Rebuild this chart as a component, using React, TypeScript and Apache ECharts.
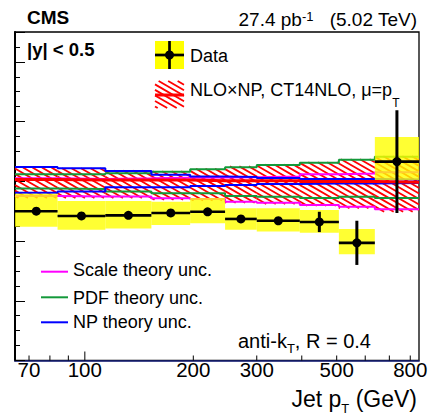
import React, { useEffect, useRef } from "react";
import * as echarts from "echarts";

// ---------------- data ----------------
const binEdges = [64, 84, 114, 153, 196, 245, 300, 395, 507, 638, 846];

const dataRatio = [0.950, 0.942, 0.943, 0.947, 0.949, 0.937, 0.934, 0.932, 0.897, 1.033];
const dataStatErr = [0.003, 0.003, 0.003, 0.004, 0.005, 0.006, 0.006, 0.017, 0.037, 0.086];
const dataSystLow = [0.924, 0.919, 0.921, 0.927, 0.930, 0.919, 0.916, 0.914, 0.878, 1.002];
const dataSystHigh = [0.979, 0.967, 0.967, 0.966, 0.972, 0.955, 0.955, 0.952, 0.920, 1.074];

const theoryCentral = [1.003, 1.002, 1.002, 1.002, 1.001, 1.001, 1.001, 0.9995, 0.9995, 0.9985];
const theoryTotalLow = [0.972, 0.972, 0.972, 0.969, 0.968, 0.964, 0.962, 0.959, 0.955, 0.949];
const theoryTotalHigh = [1.023, 1.022, 1.018, 1.017, 1.021, 1.025, 1.028, 1.032, 1.037, 1.042];
const scaleLow = [0.9755, 0.9747, 0.9744, 0.9717, 0.9705, 0.966, 0.9643, 0.9605, 0.9576, 0.9533];
const scaleHigh = [1.005, 1.004, 1.005, 1.006, 1.0065, 1.007, 1.008, 1.012, 1.013, 1.015];
const pdfLow = [0.988, 0.987, 0.983, 0.980, 0.980, 0.9755, 0.974, 0.972, 0.974, 0.972];
const pdfHigh = [1.012, 1.012, 1.0136, 1.016, 1.020, 1.0236, 1.0275, 1.031, 1.036, 1.041];
const npLow = [0.981, 0.983, 0.990, 0.990, 0.992, 0.994, 0.9956, 0.9965, 0.9965, 0.9973];
const npHigh = [1.024, 1.022, 1.0174, 1.011, 1.008, 1.0074, 1.0057, 1.004, 1.004, 1.003];

const xTickValues = [70, 80, 90, 100, 200, 300, 400, 500, 600, 700, 800];
const xTickLabels = [70, 100, 200, 300, 500, 800];

// ---------------- styling ----------------
const FONT = "'Liberation Sans', Arial, Helvetica, sans-serif";
const RED = "#ff0000";
const MAGENTA = "#ff00ff";
const GREEN = "#13993a";
const BLUE = "#0000ff";
const YELLOW = "#ffff00";
const HATCH_SLOPE = 0.58;
const HATCH_STEP = 0.58 * 9.5;

function hatchLines(x0: number, y0: number, x1: number, y1: number, width = 1.8): any[] {
  const out: any[] = [];
  const kMin = Math.ceil((y0 - HATCH_SLOPE * x1) / HATCH_STEP);
  const kMax = Math.floor((y1 - HATCH_SLOPE * x0) / HATCH_STEP);
  for (let k = kMin; k <= kMax; k++) {
    const c = k * HATCH_STEP;
    const xa = Math.max(x0, (y0 - c) / HATCH_SLOPE);
    const xb = Math.min(x1, (y1 - c) / HATCH_SLOPE);
    if (xb - xa > 0.3) {
      out.push({
        type: "line",
        shape: { x1: xa, y1: HATCH_SLOPE * xa + c, x2: xb, y2: HATCH_SLOPE * xb + c },
        style: { stroke: RED, lineWidth: width },
      });
    }
  }
  return out;
}

function stepData(values: number[]) {
  const pts = binEdges.slice(0, -1).map((e, i) => [e, values[i]]);
  pts.push([binEdges[binEdges.length - 1], values[values.length - 1]]);
  return pts;
}

function stepSeries(values: number[], color: string, width: number, z: number) {
  return {
    type: "line",
    data: stepData(values),
    step: "end",
    symbol: "none",
    silent: true,
    z,
    lineStyle: { color, width },
  };
}

export default function App() {
  const ref = useRef<HTMLDivElement>(null);

  useEffect(() => {
    const chart = echarts.init(ref.current!, null, { renderer: "svg" });

    const hatchData = binEdges.slice(0, -1).map((lo, i) => [lo, binEdges[i + 1], theoryTotalLow[i], theoryTotalHigh[i]]);
    const systData = binEdges.slice(0, -1).map((lo, i) => [lo, binEdges[i + 1], dataSystLow[i], dataSystHigh[i]]);
    const pointData = binEdges.slice(0, -1).map((lo, i) => [lo, binEdges[i + 1], dataRatio[i], dataStatErr[i]]);
    const tickData = xTickValues.map((v) => [v, 0.7]);

    const legendHatch = hatchLines(155, 81, 184, 108, 1.8);

    const option: any = {
      animation: false,
      backgroundColor: "#ffffff",
      grid: {
        left: 15,
        right: 11,
        top: 32,
        bottom: 58.5,
        show: true,
        borderColor: "#000",
        borderWidth: 1.3,
        backgroundColor: "transparent",
        outerBoundsMode: "none",
        containLabel: false,
      },
      xAxis: {
        type: "log",
        logBase: 10,
        min: 64,
        max: 846,
        axisLine: { show: true, lineStyle: { color: "#1a237e", width: 1.6 } },
        axisTick: { show: false },
        axisLabel: { show: false },
        splitLine: { show: false },
        minorTick: { show: false },
      },
      yAxis: [
        {
          type: "value",
          min: 0.7,
          max: 1.25,
          interval: 0.025,
          position: "left",
          axisLine: { show: true, lineStyle: { color: "#000", width: 2 } },
          axisTick: { show: true, inside: true, length: 5, lineStyle: { color: "#000", width: 1 } },
          axisLabel: { show: false },
          splitLine: { show: false },
        },
        {
          type: "value",
          min: 0.7,
          max: 1.25,
          interval: 0.1,
          position: "left",
          axisLine: { show: false },
          axisTick: { show: true, inside: true, length: 10, lineStyle: { color: "#000", width: 1 } },
          axisLabel: { show: false },
          splitLine: { show: false },
        },
      ],
      series: [
        {
          type: "custom",
          name: "NLO hatch",
          z: 1,
          silent: true,
          clip: false,
          data: hatchData,
          renderItem: (_p: any, api: any) => {
            const a = api.coord([api.value(0), api.value(3)]);
            const b = api.coord([api.value(1), api.value(2)]);
            return { type: "group", children: hatchLines(a[0], a[1], b[0], b[1], 1.8) };
          },
        },
        stepSeries(scaleLow, MAGENTA, 2, 2),
        stepSeries(scaleHigh, MAGENTA, 2, 2),
        stepSeries(pdfLow, GREEN, 2, 2),
        stepSeries(pdfHigh, GREEN, 2, 2),
        stepSeries(npLow, BLUE, 2, 2),
        stepSeries(npHigh, BLUE, 2, 2),
        stepSeries(theoryCentral, RED, 3, 3),
        {
          type: "custom",
          name: "Data syst",
          z: 4,
          silent: true,
          clip: false,
          data: systData,
          renderItem: (_p: any, api: any) => {
            const a = api.coord([api.value(0), api.value(3)]);
            const b = api.coord([api.value(1), api.value(2)]);
            return {
              type: "rect",
              shape: { x: a[0], y: a[1], width: b[0] - a[0], height: b[1] - a[1] },
              style: { fill: YELLOW, opacity: 0.8 },
            };
          },
        },
        {
          type: "custom",
          name: "Data",
          z: 5,
          silent: true,
          clip: false,
          data: pointData,
          renderItem: (_p: any, api: any) => {
            const lo = api.value(0);
            const hi = api.value(1);
            const v = api.value(2);
            const e = api.value(3);
            const xc = Math.sqrt(lo * hi);
            const l = api.coord([lo, v]);
            const r = api.coord([hi, v]);
            const c = api.coord([xc, v]);
            const t = api.coord([xc, v + e]);
            const bt = api.coord([xc, v - e]);
            return {
              type: "group",
              children: [
                { type: "line", shape: { x1: l[0], y1: l[1], x2: r[0], y2: r[1] }, style: { stroke: "#000", lineWidth: 2.6 } },
                { type: "line", shape: { x1: t[0], y1: t[1], x2: bt[0], y2: bt[1] }, style: { stroke: "#000", lineWidth: 3 } },
                { type: "circle", shape: { cx: c[0], cy: c[1], r: 4.5 }, style: { fill: "#000" } },
              ],
            };
          },
        },
        {
          type: "custom",
          name: "x ticks",
          z: 6,
          silent: true,
          clip: false,
          data: tickData,
          renderItem: (_p: any, api: any) => {
            const v = api.value(0);
            const p = api.coord([v, 0.7]);
            const len = v === 100 ? 9 : 5;
            const children: any[] = [
              { type: "line", shape: { x1: p[0], y1: p[1], x2: p[0], y2: p[1] - len }, style: { stroke: "#000", lineWidth: 1 } },
            ];
            if (xTickLabels.indexOf(v) >= 0) {
              children.push({
                type: "text",
                style: {
                  text: String(v),
                  x: p[0],
                  y: p[1] + 8.5,
                  align: "center",
                  verticalAlign: "middle",
                  fontSize: 20.5,
                  fontFamily: FONT,
                  fill: "#000",
                },
              });
            }
            return { type: "group", children };
          },
        },
      ],
      graphic: {
        elements: [
          {
            type: "text",
            style: { text: "CMS", x: 27, y: 17.5, align: "left", verticalAlign: "middle", fontSize: 19, fontWeight: "bold", fontFamily: FONT, fill: "#000" },
          },
          {
            type: "text",
            style: {
              text: "27.4 pb{sup|-1}   (5.02 TeV)",
              x: 417,
              y: 19,
              align: "right",
              verticalAlign: "middle",
              fontSize: 19,
              fontFamily: FONT,
              fill: "#000",
              rich: { sup: { fontSize: 13, fontFamily: FONT, padding: [0, 0, 6, 0] } },
            },
          },
          {
            type: "text",
            style: { text: "|y| < 0.5", x: 27, y: 49, align: "left", verticalAlign: "middle", fontSize: 18.5, fontWeight: "bold", fontFamily: FONT, fill: "#000" },
          },
          // Data legend entry
          { type: "rect", shape: { x: 155, y: 41, width: 29, height: 28 }, style: { fill: YELLOW } },
          { type: "line", shape: { x1: 155, y1: 55, x2: 184, y2: 55 }, style: { stroke: "#000", lineWidth: 2.7 } },
          { type: "line", shape: { x1: 169.5, y1: 41, x2: 169.5, y2: 69 }, style: { stroke: "#000", lineWidth: 2.7 } },
          { type: "circle", shape: { cx: 169.5, cy: 55, r: 4.5 }, style: { fill: "#000" } },
          {
            type: "text",
            style: { text: "Data", x: 190, y: 56.3, align: "left", verticalAlign: "middle", fontSize: 18, fontFamily: FONT, fill: "#000" },
          },
          // NLO legend entry
          { type: "group", children: legendHatch },
          { type: "line", shape: { x1: 155, y1: 95, x2: 184, y2: 95 }, style: { stroke: RED, lineWidth: 3 } },
          {
            type: "text",
            style: {
              text: "NLO×NP, CT14NLO, μ=p{sub|T}",
              x: 190,
              y: 90,
              align: "left",
              verticalAlign: "middle",
              fontSize: 18,
              fontFamily: FONT,
              fill: "#000",
              rich: { sub: { fontSize: 12, fontFamily: FONT, padding: [26, 0, 0, 0] } },
            },
          },
          // theory uncertainty legend
          { type: "line", shape: { x1: 41, y1: 271.7, x2: 68, y2: 271.7 }, style: { stroke: MAGENTA, lineWidth: 2 } },
          {
            type: "text",
            style: { text: "Scale theory unc.", x: 73, y: 270.3, align: "left", verticalAlign: "middle", fontSize: 18, fontFamily: FONT, fill: "#000" },
          },
          { type: "line", shape: { x1: 41, y1: 297.3, x2: 68, y2: 297.3 }, style: { stroke: GREEN, lineWidth: 2 } },
          {
            type: "text",
            style: { text: "PDF theory unc.", x: 73, y: 297.5, align: "left", verticalAlign: "middle", fontSize: 18, fontFamily: FONT, fill: "#000" },
          },
          { type: "line", shape: { x1: 41, y1: 322.3, x2: 68, y2: 322.3 }, style: { stroke: BLUE, lineWidth: 2 } },
          {
            type: "text",
            style: { text: "NP theory unc.", x: 73, y: 322, align: "left", verticalAlign: "middle", fontSize: 18, fontFamily: FONT, fill: "#000" },
          },
          {
            type: "text",
            style: {
              text: "anti-k{sub|T}, R = 0.4",
              x: 238,
              y: 340.8,
              align: "left",
              verticalAlign: "middle",
              fontSize: 20,
              fontFamily: FONT,
              fill: "#000",
              rich: { sub: { fontSize: 13, fontFamily: FONT, padding: [15, 0, 0, 0] } },
            },
          },
          {
            type: "text",
            style: {
              text: "Jet p{sub|T} (GeV)",
              x: 417,
              y: 399,
              align: "right",
              verticalAlign: "middle",
              fontSize: 23,
              fontFamily: FONT,
              fill: "#000",
              rich: { sub: { fontSize: 13, fontFamily: FONT, padding: [18, 0, 0, 0] } },
            },
          },
        ],
      },
    };

    chart.setOption(option);
    return () => chart.dispose();
  }, []);

  return <div ref={ref} style={{ position: "absolute", left: 0, top: 0, width: 430, height: 419 }} />;
}
